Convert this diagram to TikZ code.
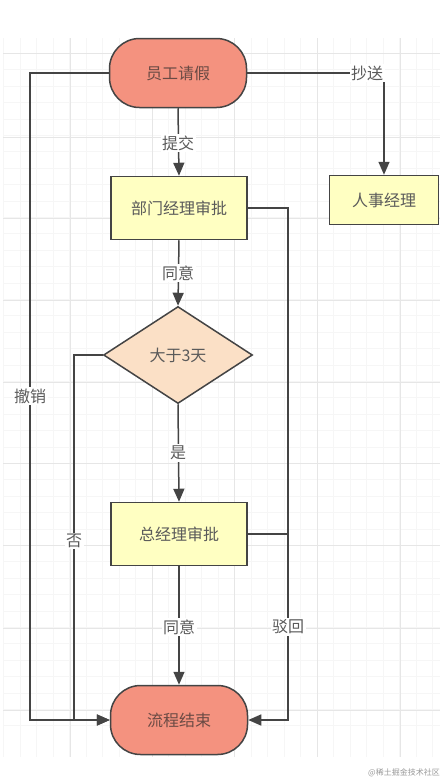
\documentclass[tikz,border=0pt]{standalone}
\usepackage{fontspec}
\setmainfont{Noto Sans CJK SC}
\usetikzlibrary{shapes.geometric,arrows.meta}
\definecolor{linec}{HTML}{444444}
\definecolor{textc}{HTML}{5A5A5A}
\definecolor{salmon}{HTML}{F4927F}
\definecolor{paleyellow}{HTML}{FFFFC2}
\definecolor{peach}{HTML}{FBE0C6}
\definecolor{gridminor}{HTML}{F6F6F6}
\definecolor{gridmajor}{HTML}{E6E6E6}
\definecolor{darktext}{HTML}{6A4A44}
\tikzset{
  base/.style={draw=linec, line width=1.5pt, text=textc, font=\fontsize{16}{18}\selectfont, inner sep=0pt},
  stadium/.style={base, fill=salmon, rectangle, rounded corners=30pt, minimum width=137pt, minimum height=69pt, text=darktext},
  approve/.style={base, fill=paleyellow, rectangle, minimum width=136pt, minimum height=63pt},
  decide/.style={base, fill=peach, diamond, aspect=1.5, minimum width=149pt, minimum height=97pt},
  conn/.style={draw=linec, line width=1.5pt, -{Triangle[length=13pt,width=11pt]}},
  plainconn/.style={draw=linec, line width=1.5pt},
  lbl/.style={fill=white, text=textc, font=\fontsize{16}{18}\selectfont, inner sep=1.5pt}
}
\begin{document}
\begin{tikzpicture}[x=1pt,y=-1pt]
\useasboundingbox (0,0) rectangle (444,782);
\fill[white] (0,0) rectangle (444,782);
% grid
\foreach \i in {0,...,27} {
  \pgfmathsetmacro{\xx}{3.5+16.5*\i}
  \draw[gridminor, line width=0.6pt] (\xx,38) -- (\xx,757);
}
\foreach \i in {0,...,44} {
  \pgfmathsetmacro{\yy}{4+16.4*\i}
  \ifdim \yy pt>37pt \draw[gridminor, line width=0.6pt] (3,\yy) -- (440,\yy); \fi
}
\foreach \xx in {70,152,234,317,400} \draw[gridmajor, line width=0.8pt] (\xx,38) -- (\xx,757);
\foreach \yy in {53,137,218,300,382,463,545,628,710} \draw[gridmajor, line width=0.8pt] (3,\yy) -- (440,\yy);

% nodes
\node[stadium] (start) at (178,73) {员工请假};
\node[approve] (dept) at (179,208) {部门经理审批};
\node[approve, minimum width=109pt, minimum height=49pt] (hr) at (384,200) {人事经理};
\node[decide] (dec) at (178,355) {大于3天};
\node[approve] (gm) at (179,534) {总经理审批};
\node[stadium] (end) at (179,720) {流程结束};

% coordinates
\coordinate (leftc) at (30,73);
\coordinate (noc) at (74,355);
\coordinate (hrc) at (384,73);
\coordinate (rc1) at (288,208);
\coordinate (rc2) at (288,534);

% connectors
\draw[conn] (start.south) -- (dept.north);
\draw[conn] (dept.south) -- (dec.north);
\draw[conn] (dec.south) -- (gm.north);
\draw[conn] (gm.south) -- (end.north);
\draw[conn] (start.east) -- (hrc) -- (hr.north);
\draw[conn] (start.west) -- (leftc) |- (end.west);
\draw[conn] (dec.west) -- (noc) |- (end.west);
\draw[conn] (dept.east) -- (rc1) |- (end.east);
\draw[plainconn] (gm.east) -- (rc2);

% labels
\node[lbl] (l1) at (178,143) {提交};
\node[lbl] (l2) at (178,273) {同意};
\node[lbl] (l3) at (178,453) {是};
\node[lbl] (l4) at (179,627) {同意};
\node[lbl] (l5) at (367,73) {抄送};
\node[lbl] (l6) at (30,396) {撤销};
\node[lbl] (l7) at (74,541) {否};
\node[lbl] (l8) at (288,627) {驳回};

% watermark
\node[text=black!40, font=\fontsize{8}{9}\selectfont, anchor=east, inner sep=0pt] (wm) at (440,773) {@稀土掘金技术社区};
\end{tikzpicture}
\end{document}
